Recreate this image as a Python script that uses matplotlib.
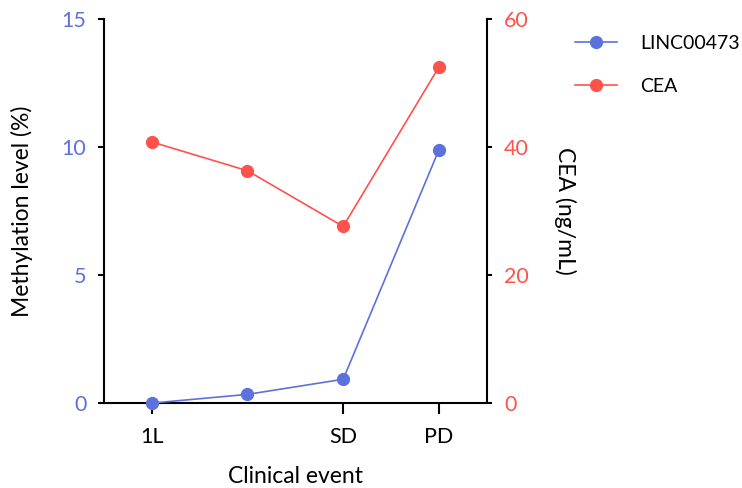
import numpy as np
import matplotlib
matplotlib.use('Agg')
import matplotlib.pyplot as plt

plt.rcParams['font.family'] = ['Lato', 'DejaVu Sans']

events = ['1L', '', 'SD', 'PD']
linc = [0.0, 0.34, 0.93, 9.89]
cea = [40.8, 36.3, 27.6, 52.5]

blue = '#5B72DC'
red = '#FF524A'

fig = plt.figure(figsize=(7.42, 4.88), dpi=100)
ax = fig.add_axes([0.140, 0.174, 0.516, 0.787])
ax2 = ax.twinx()

x = np.arange(len(events))
l1, = ax.plot(x, linc, color=blue, marker='o', ms=8.5, lw=1.2, label='LINC00473', clip_on=False, zorder=3)
l2, = ax2.plot(x, cea, color=red, marker='o', ms=8.5, lw=1.2, label='CEA', clip_on=False, zorder=3)

ax.set_xlim(-0.5, 3.5)
ax.set_ylim(0, 15)
ax2.set_ylim(0, 60)
ax.set_yticks([0, 5, 10, 15])
ax2.set_yticks([0, 20, 40, 60])
ax.set_xticks([0, 2, 3])
ax.set_xticklabels(['1L', 'SD', 'PD'])

for a in (ax, ax2):
    a.spines['top'].set_visible(False)
    for s in a.spines.values():
        s.set_linewidth(1.5)
    a.tick_params(width=1.5, labelsize=15.5, direction='out')
ax.spines['right'].set_visible(False)
ax2.spines['left'].set_visible(False)
ax2.spines['bottom'].set_visible(False)
ax.tick_params(axis='x', length=8, pad=9)
ax.tick_params(axis='y', labelcolor=blue, length=4.5, pad=8)
ax2.tick_params(axis='y', labelcolor=red, length=3.5, pad=9)

ax.set_xlabel('Clinical event', fontsize=16.5, va='center')
ax.set_ylabel('Methylation level (%)', fontsize=16.5, va='center')
ax2.set_ylabel('CEA (ng/mL)', fontsize=16.5, rotation=270, va='center')
ax.xaxis.set_label_coords(0.5, -0.19)
ax.yaxis.set_label_coords(-0.214, 0.5)
ax2.yaxis.set_label_coords(1.204, 0.5)

fig.legend(handles=[l1, l2], loc='upper left', bbox_to_anchor=(0.775, 0.929),
           frameon=False, fontsize=14, handlelength=2.15, labelspacing=1.35,
           handletextpad=1.2, borderpad=0, borderaxespad=0)

fig.savefig('out.png', dpi=100)
